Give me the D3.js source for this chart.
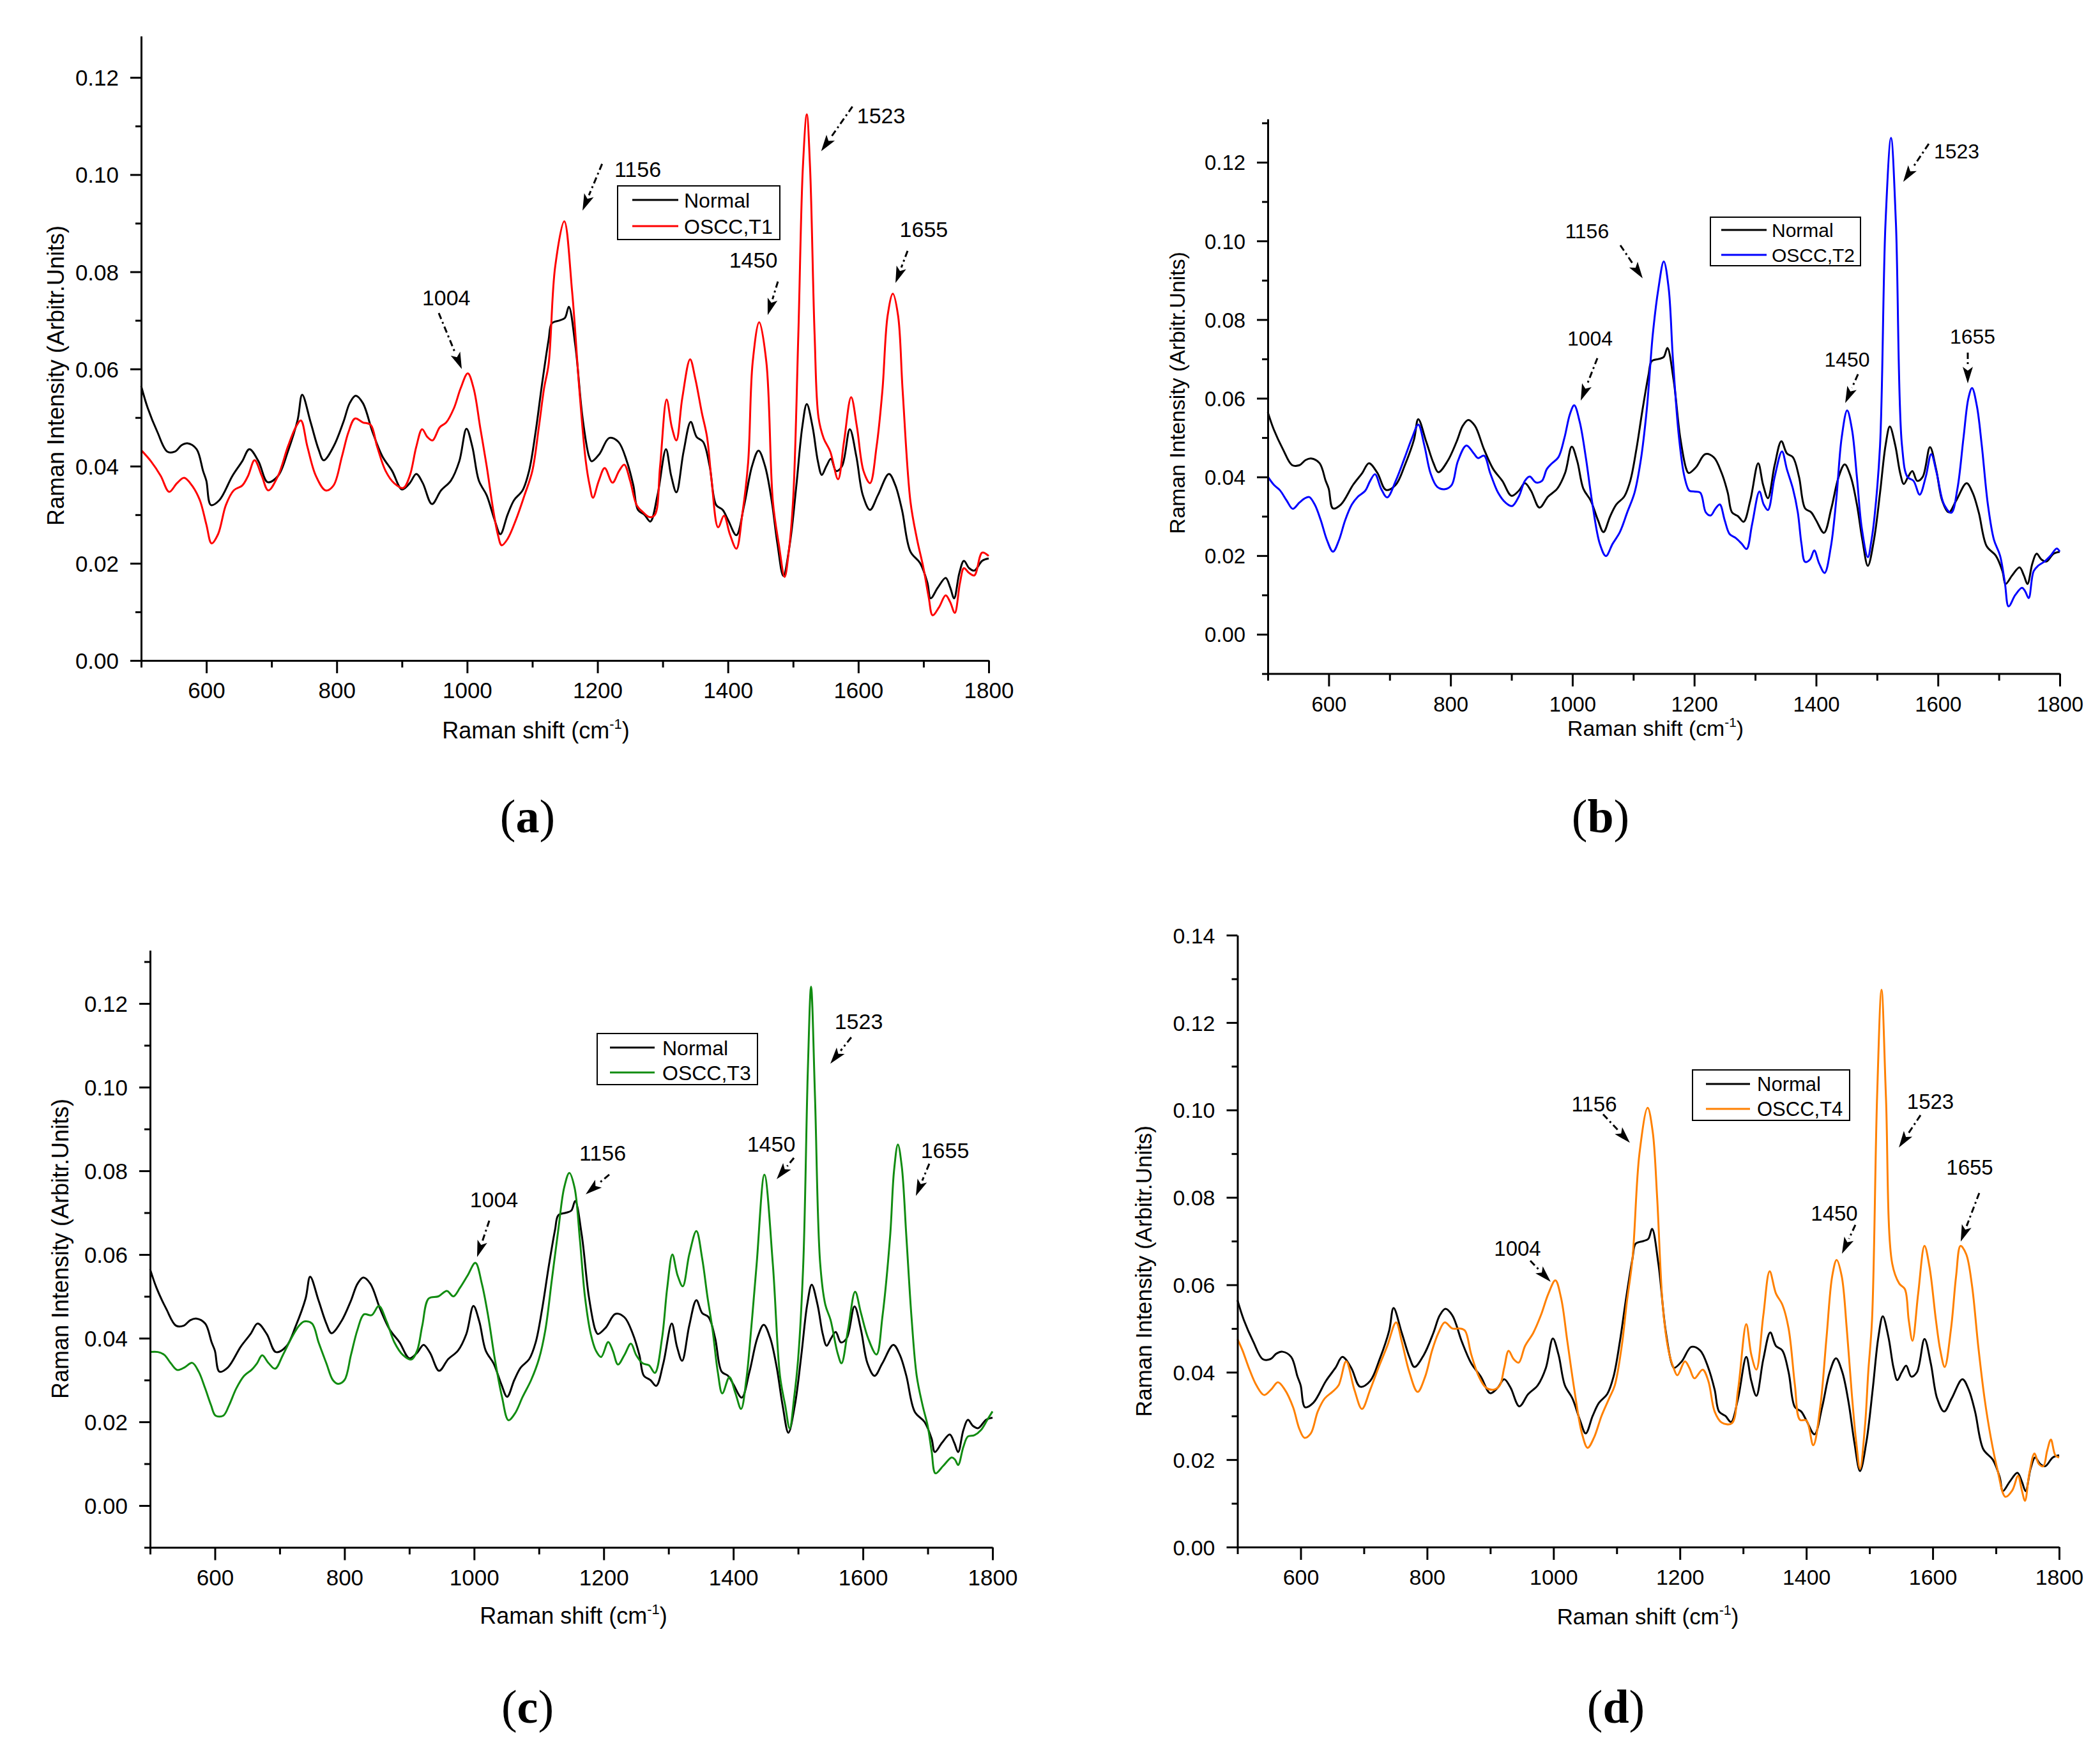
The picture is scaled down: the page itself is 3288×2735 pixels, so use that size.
<!DOCTYPE html>
<html><head><meta charset="utf-8">
<script src="https://cdn.jsdelivr.net/npm/d3@7"></script>
<style>body{margin:0;background:#fff}svg{display:block}</style>
</head><body>
<svg id="chart" width="3288" height="2735"></svg>
<script>
// ---------------- DATA ----------------
const normal = [[500,0.0565],[510,0.052],[525,0.047],[540,0.043],[552,0.043],[562,0.0443],[571,0.0447],[585,0.0435],[595,0.039],[600,0.037],[607,0.032],[620,0.033],[640,0.038],[655,0.041],[666,0.0435],[680,0.041],[694,0.0367],[710,0.038],[725,0.043],[740,0.0495],[747,0.0547],[760,0.049],[772,0.0435],[780,0.0412],[795,0.044],[810,0.049],[820,0.053],[829,0.0545],[840,0.053],[855,0.047],[870,0.042],[885,0.039],[900,0.0352],[912,0.0365],[922,0.0384],[932,0.0365],[946,0.0322],[960,0.035],[975,0.037],[988,0.041],[999,0.0477],[1008,0.044],[1018,0.037],[1030,0.034],[1042,0.029],[1051,0.026],[1062,0.030],[1072,0.033],[1085,0.035],[1095,0.039],[1105,0.047],[1115,0.057],[1125,0.066],[1130,0.0694],[1142,0.070],[1150,0.0705],[1156,0.0728],[1166,0.0648],[1177,0.050],[1187,0.042],[1191,0.041],[1203,0.0425],[1218,0.0458],[1232,0.045],[1245,0.041],[1255,0.036],[1262,0.031],[1272,0.030],[1281,0.0286],[1292,0.034],[1305,0.0435],[1313,0.038],[1321,0.0346],[1332,0.043],[1343,0.0491],[1352,0.046],[1362,0.045],[1372,0.040],[1382,0.032],[1392,0.031],[1400,0.029],[1413,0.0258],[1425,0.032],[1437,0.040],[1447,0.0432],[1457,0.040],[1467,0.033],[1476,0.024],[1485,0.0174],[1495,0.024],[1505,0.036],[1514,0.048],[1521,0.0528],[1530,0.048],[1538,0.041],[1544,0.0382],[1551,0.040],[1558,0.0415],[1566,0.039],[1575,0.040],[1587,0.0476],[1597,0.042],[1607,0.034],[1618,0.031],[1630,0.034],[1647,0.0384],[1657,0.036],[1667,0.031],[1680,0.0224],[1695,0.020],[1706,0.016],[1711,0.0128],[1722,0.015],[1734,0.017],[1741,0.015],[1747,0.0128],[1755,0.018],[1762,0.0205],[1770,0.019],[1778,0.0185],[1790,0.0205],[1800,0.021]];

const osccT1 = [[500,0.0433],[515,0.041],[530,0.038],[543,0.0347],[555,0.0365],[566,0.0376],[578,0.036],[590,0.033],[600,0.028],[608,0.0241],[618,0.026],[630,0.032],[642,0.035],[655,0.036],[664,0.038],[674,0.0412],[685,0.038],[695,0.035],[710,0.038],[725,0.044],[737,0.048],[745,0.0494],[755,0.044],[768,0.038],[783,0.035],[795,0.036],[808,0.042],[818,0.047],[828,0.0498],[840,0.049],[852,0.0485],[862,0.044],[875,0.039],[888,0.0365],[902,0.0355],[912,0.038],[922,0.044],[931,0.0476],[939,0.046],[947,0.0453],[958,0.048],[968,0.049],[980,0.052],[990,0.056],[1001,0.0591],[1010,0.056],[1020,0.048],[1030,0.040],[1040,0.031],[1047,0.026],[1053,0.0237],[1062,0.025],[1075,0.029],[1088,0.034],[1100,0.039],[1110,0.048],[1118,0.056],[1125,0.061],[1135,0.081],[1149,0.0904],[1161,0.076],[1172,0.056],[1182,0.041],[1188,0.036],[1193,0.0335],[1202,0.037],[1211,0.0396],[1223,0.0366],[1233,0.039],[1241,0.0403],[1250,0.037],[1260,0.032],[1270,0.0305],[1280,0.0295],[1288,0.030],[1296,0.040],[1306,0.0537],[1314,0.048],[1321,0.0453],[1330,0.054],[1342,0.062],[1350,0.058],[1360,0.051],[1368,0.046],[1375,0.037],[1385,0.0274],[1394,0.0298],[1403,0.026],[1413,0.023],[1422,0.030],[1431,0.0407],[1438,0.0614],[1448,0.0696],[1459,0.0614],[1469,0.0327],[1478,0.024],[1487,0.0172],[1493,0.022],[1500,0.033],[1508,0.067],[1515,0.1015],[1521,0.1124],[1526,0.1015],[1533,0.067],[1539,0.050],[1547,0.0457],[1557,0.043],[1569,0.0373],[1578,0.045],[1589,0.0542],[1598,0.048],[1608,0.039],[1618,0.0365],[1628,0.044],[1637,0.0556],[1645,0.071],[1653,0.0755],[1661,0.071],[1668,0.0556],[1680,0.0327],[1690,0.025],[1700,0.019],[1708,0.013],[1714,0.0093],[1724,0.011],[1734,0.0134],[1741,0.012],[1748,0.0098],[1756,0.016],[1762,0.019],[1770,0.018],[1778,0.0175],[1790,0.0222],[1800,0.0215]];

const osccT2 = [[500,0.0401],[510,0.038],[520,0.0366],[531,0.034],[541,0.0319],[552,0.0335],[560,0.0345],[568,0.0349],[577,0.033],[587,0.029],[597,0.024],[607,0.021],[617,0.024],[627,0.029],[638,0.033],[648,0.035],[660,0.0365],[668,0.039],[676,0.0407],[686,0.037],[696,0.0348],[710,0.039],[725,0.045],[737,0.050],[747,0.0533],[757,0.048],[767,0.041],[778,0.0375],[791,0.0369],[802,0.038],[812,0.044],[826,0.048],[838,0.046],[845,0.0448],[855,0.0454],[865,0.041],[878,0.036],[890,0.0335],[901,0.0326],[912,0.035],[922,0.039],[930,0.0401],[940,0.0386],[950,0.039],[958,0.042],[966,0.0434],[977,0.045],[987,0.050],[996,0.056],[1003,0.0582],[1012,0.054],[1022,0.045],[1033,0.033],[1045,0.023],[1055,0.0199],[1066,0.023],[1078,0.026],[1090,0.031],[1102,0.036],[1112,0.044],[1122,0.057],[1132,0.0763],[1141,0.0877],[1150,0.0948],[1158,0.088],[1165,0.070],[1175,0.050],[1184,0.040],[1192,0.0365],[1200,0.0363],[1210,0.036],[1219,0.031],[1227,0.0302],[1235,0.032],[1242,0.033],[1250,0.029],[1258,0.0255],[1268,0.0245],[1278,0.023],[1286,0.0217],[1295,0.028],[1307,0.0363],[1314,0.033],[1321,0.0316],[1332,0.040],[1344,0.0465],[1352,0.042],[1362,0.037],[1370,0.031],[1376,0.023],[1382,0.0184],[1390,0.019],[1397,0.0213],[1405,0.018],[1414,0.0156],[1424,0.022],[1433,0.034],[1442,0.050],[1451,0.0569],[1459,0.052],[1467,0.040],[1475,0.027],[1485,0.0196],[1491,0.024],[1496,0.030],[1505,0.048],[1514,0.1047],[1523,0.1262],[1531,0.1047],[1541,0.048],[1550,0.040],[1560,0.039],[1570,0.0355],[1580,0.040],[1589,0.0458],[1598,0.041],[1610,0.033],[1622,0.0309],[1632,0.037],[1642,0.050],[1650,0.060],[1656,0.0626],[1664,0.058],[1672,0.048],[1682,0.033],[1692,0.024],[1702,0.020],[1710,0.013],[1716,0.0071],[1727,0.010],[1738,0.0118],[1743,0.011],[1749,0.0092],[1757,0.016],[1765,0.0175],[1775,0.0185],[1785,0.020],[1795,0.0218],[1800,0.021]];

const osccT3 = [[500,0.0367],[512,0.0367],[522,0.036],[532,0.034],[542,0.0324],[553,0.033],[565,0.0341],[575,0.032],[585,0.028],[594,0.024],[601,0.0215],[613,0.0215],[622,0.024],[633,0.028],[645,0.031],[657,0.0325],[665,0.034],[673,0.0359],[683,0.034],[693,0.0327],[705,0.036],[718,0.040],[730,0.043],[738,0.044],[750,0.0435],[760,0.039],[772,0.034],[782,0.030],[790,0.0291],[800,0.030],[810,0.036],[820,0.042],[830,0.0457],[842,0.0455],[853,0.0477],[865,0.044],[877,0.039],[890,0.036],[903,0.0349],[912,0.037],[920,0.043],[930,0.0495],[945,0.050],[958,0.0513],[968,0.050],[978,0.052],[990,0.055],[1002,0.058],[1012,0.053],[1022,0.045],[1032,0.035],[1043,0.026],[1053,0.0204],[1063,0.022],[1075,0.026],[1088,0.030],[1100,0.035],[1110,0.042],[1120,0.054],[1130,0.066],[1139,0.076],[1147,0.0795],[1155,0.076],[1163,0.064],[1171,0.050],[1180,0.041],[1188,0.037],[1196,0.0355],[1207,0.0391],[1214,0.037],[1222,0.0337],[1232,0.036],[1242,0.0387],[1250,0.036],[1260,0.034],[1270,0.0335],[1279,0.0317],[1290,0.040],[1298,0.052],[1306,0.060],[1314,0.055],[1322,0.0524],[1332,0.060],[1343,0.0656],[1352,0.059],[1360,0.050],[1368,0.042],[1376,0.032],[1383,0.0268],[1394,0.0307],[1403,0.027],[1412,0.0231],[1420,0.030],[1428,0.043],[1436,0.0577],[1448,0.0791],[1461,0.0577],[1472,0.031],[1480,0.024],[1487,0.0184],[1494,0.026],[1500,0.035],[1508,0.058],[1515,0.104],[1520,0.124],[1526,0.098],[1534,0.058],[1542,0.048],[1550,0.0444],[1561,0.0364],[1567,0.034],[1577,0.042],[1588,0.0511],[1597,0.046],[1608,0.040],[1621,0.0361],[1630,0.045],[1642,0.0644],[1648,0.080],[1654,0.0863],[1660,0.081],[1667,0.0644],[1675,0.045],[1683,0.031],[1692,0.024],[1700,0.019],[1706,0.013],[1712,0.0077],[1724,0.0095],[1737,0.0115],[1742,0.011],[1747,0.0097],[1755,0.014],[1762,0.0165],[1772,0.0168],[1782,0.018],[1792,0.0205],[1800,0.0225]];

const osccT4 = [[500,0.0476],[508,0.045],[518,0.041],[530,0.037],[542,0.0348],[553,0.036],[564,0.0377],[575,0.036],[588,0.032],[598,0.027],[606,0.025],[616,0.026],[627,0.031],[638,0.034],[650,0.0355],[660,0.037],[672,0.0425],[685,0.036],[697,0.0316],[710,0.036],[723,0.041],[737,0.046],[751,0.0514],[760,0.047],[772,0.040],[785,0.0355],[797,0.039],[808,0.045],[818,0.049],[828,0.0514],[840,0.050],[852,0.050],[860,0.0495],[870,0.044],[882,0.039],[893,0.0365],[905,0.036],[915,0.037],[922,0.041],[929,0.0449],[937,0.043],[945,0.0422],[955,0.046],[968,0.049],[980,0.053],[992,0.058],[1003,0.061],[1012,0.057],[1022,0.047],[1033,0.036],[1045,0.026],[1054,0.0227],[1064,0.025],[1076,0.030],[1088,0.034],[1097,0.037],[1108,0.046],[1116,0.056],[1125,0.066],[1136,0.090],[1149,0.1005],[1157,0.095],[1164,0.080],[1173,0.055],[1182,0.045],[1190,0.041],[1196,0.0393],[1208,0.0425],[1215,0.041],[1223,0.0386],[1236,0.0406],[1245,0.038],[1255,0.031],[1266,0.0285],[1282,0.0283],[1292,0.036],[1305,0.051],[1313,0.044],[1321,0.0406],[1332,0.053],[1342,0.0631],[1352,0.058],[1362,0.0555],[1372,0.050],[1382,0.037],[1390,0.0291],[1400,0.029],[1411,0.0233],[1422,0.032],[1432,0.048],[1441,0.062],[1448,0.0657],[1456,0.062],[1464,0.050],[1472,0.035],[1479,0.024],[1485,0.0179],[1493,0.028],[1498,0.040],[1504,0.052],[1512,0.103],[1519,0.1275],[1526,0.103],[1536,0.0648],[1547,0.0603],[1556,0.059],[1562,0.052],[1568,0.0472],[1577,0.058],[1587,0.0689],[1595,0.064],[1605,0.052],[1612,0.045],[1619,0.0412],[1629,0.050],[1637,0.062],[1644,0.0689],[1653,0.067],[1662,0.060],[1672,0.046],[1682,0.034],[1692,0.025],[1702,0.018],[1715,0.0115],[1726,0.013],[1735,0.0163],[1741,0.013],[1746,0.0106],[1753,0.017],[1761,0.0214],[1768,0.019],[1775,0.0185],[1781,0.022],[1787,0.0246],[1794,0.021],[1800,0.0205]];

const seriesNames = ["Normal", "OSCC,T1", "OSCC,T2", "OSCC,T3", "OSCC,T4"];
const peakLabels = ["1004", "1156", "1450", "1523", "1655"];
const xTickValues = [600, 800, 1000, 1200, 1400, 1600, 1800];
const xMinorTickValues = [500, 700, 900, 1100, 1300, 1500, 1700];
const yTicks12 = [0, 0.02, 0.04, 0.06, 0.08, 0.10, 0.12];
const yTicks14 = [0, 0.02, 0.04, 0.06, 0.08, 0.10, 0.12, 0.14];
const yMinorTicks = [-0.01, 0.01, 0.03, 0.05, 0.07, 0.09, 0.11, 0.13];
const panelLetters = ["a", "b", "c", "d"];
const xTitle = "Raman shift (cm";
const yTitle = "Raman Intensity (Arbitr.Units)";

// ---------------- LAYOUT ----------------
const FONT = "'Liberation Sans', Arial, sans-serif";
const panels = [
  { data: osccT1, name: seriesNames[1], color: "#ff0000", letter: panelLetters[0], fs: 1.0, legFs: 32,
    xr: [221, 1548], yr: [1034, 56.6], yd: [0, 0.1285], yTicks: yTicks12,
    yTitlePos: [87, 588], xTitlePos: [839, 1156], letterPos: [826, 1303],
    legend: { x: 967, y: 291, w: 254, h: 84, l0: 990, l1: 1062, ly: [313, 354], tx: 1071 },
    ann: [ { t: [968, 0.0731], a: [[956.5, 0.0715], [991.8, 0.0600]] },
           { t: [1261.7, 0.0995], a: [[1207, 0.1022], [1177, 0.0926]] },
           { t: [1439, 0.0809], a: [[1476.7, 0.0780], [1461, 0.0711]] },
           { t: [1635, 0.1106], a: [[1591, 0.1140], [1543, 0.1048]] },
           { t: [1700.5, 0.0872], a: [[1675.6, 0.0843], [1657, 0.0777]] } ] },
  { data: osccT2, name: seriesNames[2], color: "#0000ff", letter: panelLetters[1], fs: 0.94, legFs: 30,
    xr: [1985, 3225], yr: [1054.6, 186.3], yd: [-0.01, 0.131], yTicks: yTicks12,
    yTitlePos: [1843, 615], xTitlePos: [2592, 1152], letterPos: [2506, 1303],
    legend: { x: 2678, y: 340, w: 235, h: 76, l0: 2695, l1: 2766, ly: [360, 399], tx: 2774 },
    ann: [ { t: [1029, 0.0734], a: [[1041, 0.0702], [1013.7, 0.0594]] },
           { t: [1024, 0.1007], a: [[1078.7, 0.0989], [1115.4, 0.0905]] },
           { t: [1451, 0.0680], a: [[1468.8, 0.0661], [1447.8, 0.0588]] },
           { t: [1630.7, 0.1210], a: [[1585, 0.1247], [1543, 0.1150]] },
           { t: [1657, 0.0739], a: [[1649, 0.0716], [1649, 0.0638]] } ] },
  { data: osccT3, name: seriesNames[3], color: "#118c11", letter: panelLetters[2], fs: 1.0, legFs: 32,
    xr: [235, 1554], yr: [2422.5, 1487.8], yd: [-0.01, 0.1327], yTicks: yTicks12,
    yTitlePos: [94, 1955], xTitlePos: [898, 2542], letterPos: [826, 2697],
    legend: { x: 935, y: 1618, w: 251, h: 80, l0: 955, l1: 1025, ly: [1640, 1679], tx: 1037 },
    ann: [ { t: [1030.7, 0.0713], a: [[1023.4, 0.0681], [1004.6, 0.0594]] },
           { t: [1198.3, 0.0824], a: [[1208.6, 0.0791], [1172.2, 0.0744]] },
           { t: [1458.5, 0.0846], a: [[1493.5, 0.0831], [1466.9, 0.0780]] },
           { t: [1593.5, 0.1139], a: [[1582, 0.1119], [1549.7, 0.1056]] },
           { t: [1726.6, 0.0831], a: [[1702.4, 0.0817], [1681.7, 0.0740]] } ] },
  { data: osccT4, name: seriesNames[4], color: "#ff8000", letter: panelLetters[3], fs: 0.97, legFs: 31,
    xr: [1937.5, 3224], yr: [2422, 1464], yd: [0, 0.14], yTicks: yTicks14,
    yTitlePos: [1791, 1990], xTitlePos: [2580, 2543], letterPos: [2530, 2697],
    legend: { x: 2650, y: 1675, w: 246, h: 79, l0: 2671, l1: 2740, ly: [1697, 1736], tx: 2751 },
    ann: [ { t: [943.1, 0.0667], a: [[963.3, 0.0655], [995.6, 0.0607]] },
           { t: [1064.4, 0.0996], a: [[1078.5, 0.0990], [1120.9, 0.0925]] },
           { t: [1444.3, 0.0747], a: [[1477.6, 0.0737], [1456.4, 0.0671]] },
           { t: [1596.4, 0.1003], a: [[1580.7, 0.0988], [1546.4, 0.0914]] },
           { t: [1658.5, 0.0852], a: [[1673.6, 0.0810], [1644.3, 0.0699]] } ] }
];

const svg = d3.select("#chart");
svg.append("rect").attr("width", 3288).attr("height", 2735).attr("fill", "#fff");

panels.forEach(p => {
  const x = d3.scaleLinear().domain([500, 1800]).range(p.xr);
  const y = d3.scaleLinear().domain(p.yd).range(p.yr);
  const g = svg.append("g");
  const tickFs = 35 * p.fs, titleFs = 36 * p.fs, annFs = 34 * p.fs;

  // curves
  const line = d3.line().x(d => x(d[0])).y(d => y(d[1])).curve(d3.curveCatmullRom.alpha(0.5));
  g.append("path").datum(normal).attr("d", line).attr("fill", "none")
    .attr("stroke", "#000").attr("stroke-width", 3).attr("stroke-linejoin", "round");
  g.append("path").datum(p.data).attr("d", line).attr("fill", "none")
    .attr("stroke", p.color).attr("stroke-width", 3).attr("stroke-linejoin", "round");

  // axes
  const xAxisY = y(p.yd[0]);
  const styleAxis = sel => {
    sel.selectAll("path.domain").attr("stroke", "#000").attr("stroke-width", 3);
    sel.selectAll(".tick line").attr("stroke", "#000").attr("stroke-width", 3);
    sel.selectAll("text").attr("font-family", FONT).attr("font-size", tickFs).attr("fill", "#000");
  };
  const xa = g.append("g").attr("transform", `translate(0,${xAxisY})`)
    .call(d3.axisBottom(x).tickValues(xTickValues).tickSize(20).tickSizeOuter(0).tickFormat(d3.format("d")));
  styleAxis(xa);
  xa.selectAll("text").attr("y", 59).attr("dy", 0);
  const xm = g.append("g").attr("transform", `translate(0,${xAxisY})`)
    .call(d3.axisBottom(x).tickValues(xMinorTickValues).tickSize(11).tickSizeOuter(0).tickFormat(""));
  styleAxis(xm);
  xm.select("path.domain").remove();

  const ya = g.append("g").attr("transform", `translate(${p.xr[0]},0)`)
    .call(d3.axisLeft(y).tickValues(p.yTicks).tickSize(17).tickPadding(18).tickSizeOuter(0).tickFormat(d3.format(".2f")));
  styleAxis(ya);
  ya.selectAll("text").attr("dy", "0.36em");
  const ym = g.append("g").attr("transform", `translate(${p.xr[0]},0)`)
    .call(d3.axisLeft(y).tickValues(yMinorTicks.filter(v => v >= p.yd[0] && v <= p.yd[1])).tickSize(9).tickSizeOuter(0).tickFormat(""));
  styleAxis(ym);
  ym.select("path.domain").remove();

  // axis titles
  const xt = g.append("text").attr("x", p.xTitlePos[0]).attr("y", p.xTitlePos[1])
    .attr("text-anchor", "middle").attr("font-family", FONT).attr("font-size", titleFs).attr("fill", "#000");
  xt.append("tspan").text(xTitle);
  xt.append("tspan").attr("font-size", 22 * p.fs).attr("dy", -15 * p.fs).text("-1");
  xt.append("tspan").attr("dy", 15 * p.fs).text(")");

  g.append("text").attr("transform", `translate(${p.yTitlePos[0]},${p.yTitlePos[1]}) rotate(-90)`)
    .attr("text-anchor", "middle").attr("dy", "0.35em").attr("font-family", FONT)
    .attr("font-size", titleFs).attr("fill", "#000").text(yTitle);

  // legend
  const L = p.legend;
  g.append("rect").attr("x", L.x).attr("y", L.y).attr("width", L.w).attr("height", L.h)
    .attr("fill", "#fff").attr("stroke", "#000").attr("stroke-width", 2);
  [["#000", seriesNames[0]], [p.color, p.name]].forEach((e, i) => {
    g.append("line").attr("x1", L.l0).attr("x2", L.l1).attr("y1", L.ly[i]).attr("y2", L.ly[i])
      .attr("stroke", e[0]).attr("stroke-width", 3);
    g.append("text").attr("x", L.tx).attr("y", L.ly[i] + 0.36 * p.legFs).attr("font-family", FONT)
      .attr("font-size", p.legFs).attr("fill", "#000").text(e[1]);
  });

  // annotations
  p.ann.forEach((a, i) => {
    g.append("text").attr("x", x(a.t[0])).attr("y", y(a.t[1])).attr("text-anchor", "middle")
      .attr("font-family", FONT).attr("font-size", annFs).attr("fill", "#000").text(peakLabels[i]);
    const x1 = x(a.a[0][0]), y1 = y(a.a[0][1]), x2 = x(a.a[1][0]), y2 = y(a.a[1][1]);
    const dx = x2 - x1, dy = y2 - y1, len = Math.hypot(dx, dy);
    const ux = dx / len, uy = dy / len, head = 26, hw = 8;
    const bx = x2 - ux * head, by = y2 - uy * head;
    g.append("line").attr("x1", x1).attr("y1", y1).attr("x2", bx).attr("y2", by)
      .attr("stroke", "#000").attr("stroke-width", 3).attr("stroke-dasharray", "10,5,3,5");
    g.append("path").attr("d", `M${x2},${y2}L${bx - uy * hw},${by + ux * hw}L${bx + ux * 6},${by + uy * 6}L${bx + uy * hw},${by - ux * hw}Z`)
      .attr("fill", "#000");
  });

  // panel letter
  const lt = g.append("text").attr("x", p.letterPos[0]).attr("y", p.letterPos[1])
    .attr("text-anchor", "middle").attr("font-family", "'Liberation Serif', 'DejaVu Serif', serif")
    .attr("font-size", 74).attr("fill", "#000");
  lt.append("tspan").text("(");
  lt.append("tspan").attr("font-weight", "bold").text(p.letter);
  lt.append("tspan").text(")");
});
</script>
</body></html>
